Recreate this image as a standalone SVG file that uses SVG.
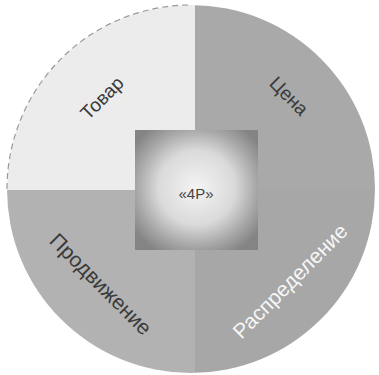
<svg xmlns="http://www.w3.org/2000/svg" width="379" height="375" viewBox="0 0 379 375">
<defs>
<clipPath id="disc"><circle cx="191" cy="189" r="184"/></clipPath>
<radialGradient id="sphere" cx="0.5" cy="0.48" r="0.62">
<stop offset="0" stop-color="#f4f4f4"/>
<stop offset="0.5" stop-color="#dadada"/>
<stop offset="0.78" stop-color="#a8a8a8"/>
<stop offset="1" stop-color="#848484"/>
</radialGradient>
<style>
.lbl{font-family:"Liberation Sans",Arial,sans-serif;font-size:19px;fill:#3a3a3a;text-anchor:middle;dominant-baseline:central}
.big{font-size:21px}
.wl{fill:#f6f6f6}
</style>
</defs>
<rect width="379" height="375" fill="#ffffff"/>
<g clip-path="url(#disc)">
<g id="tovar"><rect x="0" y="0" width="195" height="190" fill="#ececec"/></g>
<g id="cena"><rect x="195" y="0" width="184" height="190" fill="#a9a9a9"/></g>
<g id="prodvizhenie"><rect x="0" y="190" width="195" height="185" fill="#b2b2b2"/></g>
<g id="raspredelenie"><rect x="195" y="190" width="184" height="185" fill="#a7a7a7"/></g>
</g>
<path d="M7,189 A184,184 0 0 1 191,5" fill="none" stroke="#9a9a9a" stroke-width="1.2" stroke-dasharray="6 4"/>
<g id="labels">
<text class="lbl" transform="translate(102,98) rotate(-45)">Товар</text>
<text class="lbl" transform="translate(289,96) rotate(45)">Цена</text>
<text class="lbl big" transform="translate(101,284) rotate(45)">Продвижение</text>
<text class="lbl big wl" transform="translate(290,281) rotate(-45)">Распределение</text>
</g>
<g id="center-4p">
<rect x="135" y="130" width="123" height="120" fill="url(#sphere)"/>
<text class="lbl" x="196" y="193" style="font-size:15px;fill:#444">«4P»</text>
</g>
<g id="connectors"/>
</svg>
